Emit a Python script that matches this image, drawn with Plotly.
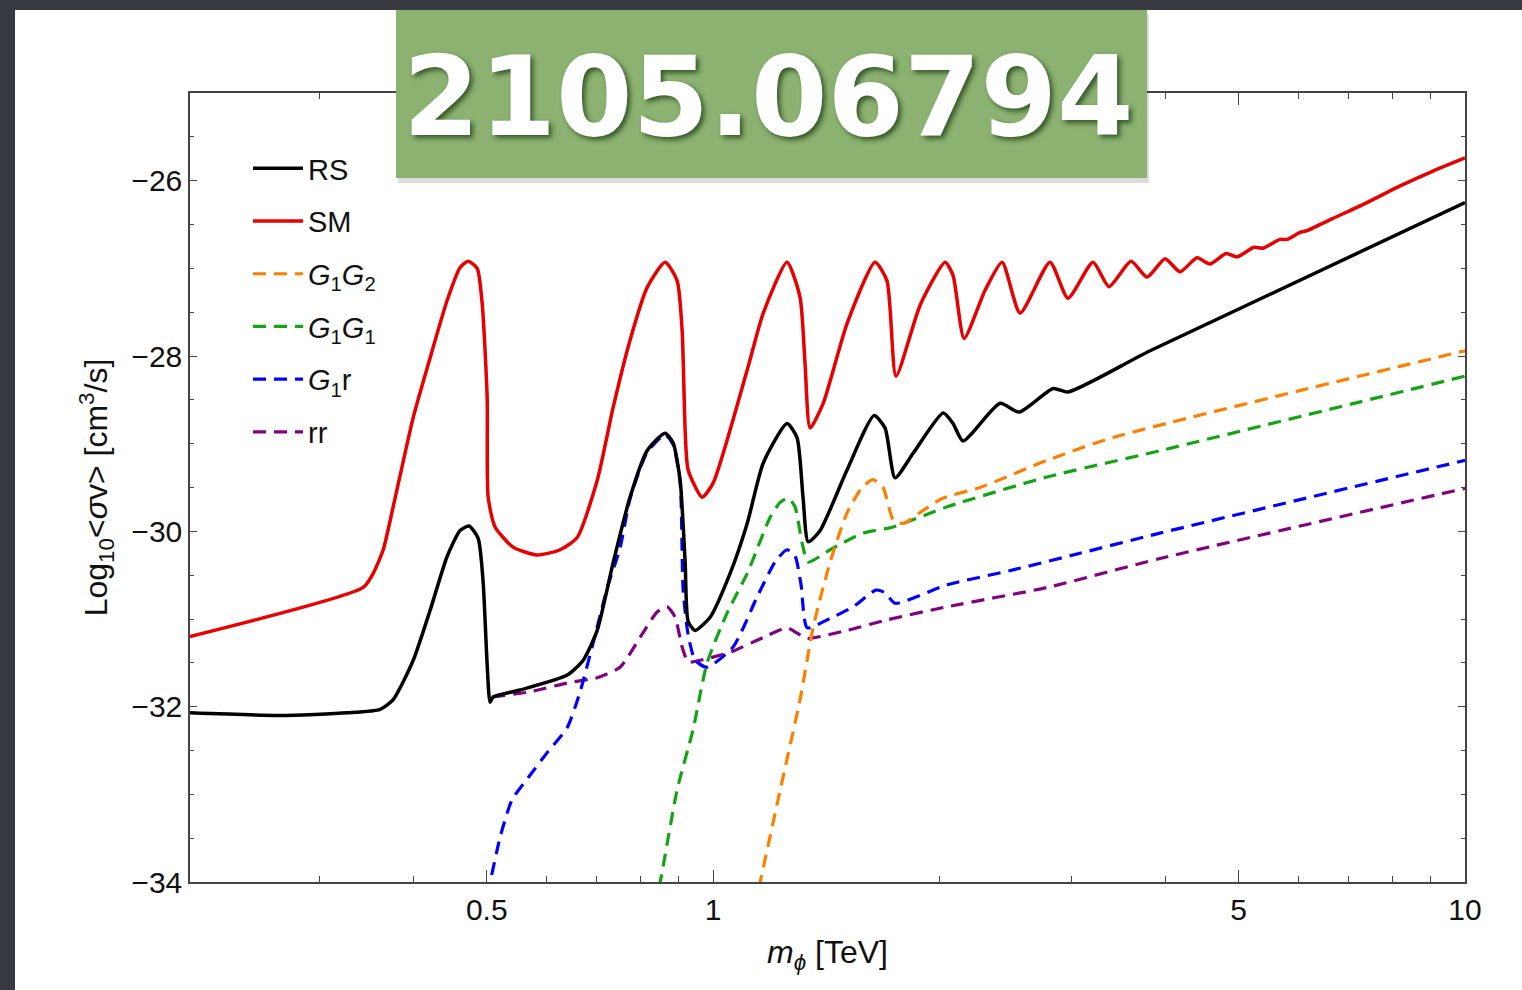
import numpy as np
import plotly.graph_objects as go

# ---------------- data ----------------
SM_m = [0.2015, 0.3424, 0.3531, 0.3641, 0.3754, 0.3992, 0.4204, 0.4427, 0.4608, 0.4722,
        0.4855, 0.4930, 0.5006, 0.5021, 0.5129, 0.5420, 0.5834, 0.6260, 0.6595, 0.7012,
        0.7362, 0.7754, 0.8169, 0.8633, 0.8956, 0.9095, 0.9180, 0.9264, 0.9669, 1.000,
        1.110, 1.166, 1.254, 1.305, 1.325, 1.346, 1.401, 1.507, 1.642, 1.703,
        1.751, 1.885, 2.035, 2.085, 2.157, 2.300, 2.423, 2.560, 2.806, 2.965,
        3.201, 3.362, 3.596, 3.777, 3.991, 4.178, 4.401, 4.580, 4.811, 4.975,
        5.242, 5.388, 5.675, 5.799, 6.034, 6.165, 6.675, 7.407, 8.198, 9.067, 10.0]
SM_y = [-31.20, -30.64, -30.48, -30.21, -29.72, -28.70, -28.02, -27.37, -26.99, -26.92,
        -27.00, -27.40, -28.47, -29.61, -29.95, -30.18, -30.27, -30.21, -30.07, -29.42,
        -28.59, -27.82, -27.22, -26.93, -27.14, -27.71, -28.85, -29.30, -29.61, -29.45,
        -28.16, -27.51, -26.93, -27.33, -28.08, -28.82, -28.54, -27.63, -26.93, -27.14,
        -28.23, -27.42, -26.93, -27.08, -27.80, -27.25, -26.93, -27.51, -26.93, -27.34,
        -26.93, -27.21, -26.92, -27.10, -26.89, -27.04, -26.88, -26.95, -26.83, -26.87,
        -26.76, -26.77, -26.67, -26.67, -26.59, -26.57, -26.43, -26.25, -26.06, -25.89, -25.74]

RS_m = [0.2015, 0.2655, 0.3262, 0.3607, 0.3754, 0.3992, 0.4204, 0.4427, 0.4608, 0.4736,
        0.4870, 0.4944, 0.5006, 0.5051, 0.5097, 0.5538, 0.6396, 0.6718, 0.7012, 0.7362,
        0.7754, 0.8169, 0.8633, 0.8847, 0.9040, 0.9180, 0.9264, 0.9464, 0.9909, 1.0534,
        1.110, 1.166, 1.254, 1.293, 1.317, 1.338, 1.388, 1.507, 1.637, 1.693,
        1.746, 1.845, 2.023, 2.085, 2.150, 2.408, 2.552, 2.833, 2.965, 3.812, 10.0]
RS_y = [-32.07, -32.10, -32.07, -32.03, -31.92, -31.47, -30.90, -30.29, -29.99, -29.94,
        -30.08, -30.57, -31.52, -31.95, -31.89, -31.81, -31.64, -31.47, -31.13, -30.36,
        -29.61, -29.08, -28.88, -28.99, -29.42, -30.36, -31.03, -31.13, -30.98, -30.48,
        -29.91, -29.22, -28.77, -28.93, -29.61, -30.12, -29.99, -29.30, -28.68, -28.82,
        -29.39, -29.11, -28.65, -28.77, -28.97, -28.54, -28.64, -28.37, -28.41, -27.94, -26.25]

G1G2_m = [1.134, 1.155, 1.228, 1.305, 1.358, 1.431, 1.507, 1.578, 1.632, 1.683,
          1.736, 1.789, 1.903, 2.023, 2.265, 2.781, 3.404, 10.0]
G1G2_y = [-34.30, -34.00, -32.95, -31.92, -31.10, -30.35, -29.79, -29.50, -29.41, -29.50,
          -29.87, -29.91, -29.76, -29.62, -29.50, -29.19, -28.93, -27.94]

G1G1_m = [0.8346, 0.8504, 0.8956, 0.9405, 0.9818, 1.044, 1.110, 1.191, 1.228, 1.258,
          1.285, 1.313, 1.338, 1.431, 1.583, 1.736, 2.048, 2.781, 3.930, 10.0]
G1G1_y = [-34.29, -34.00, -32.95, -32.26, -31.50, -30.93, -30.48, -29.84, -29.67, -29.62,
          -29.72, -30.13, -30.35, -30.21, -30.02, -29.95, -29.72, -29.38, -29.08, -28.23]

G1r_m = [0.4991, 0.5051, 0.5208, 0.5403, 0.5675, 0.6034, 0.6396, 0.6654, 0.6927, 0.7229,
         0.7521, 0.7754, 0.8169, 0.8633, 0.8847, 0.9040, 0.9123, 0.9264, 0.9464, 0.9818,
         1.063, 1.144, 1.209, 1.254, 1.285, 1.309, 1.334, 1.418, 1.536, 1.647,
         1.693, 1.746, 2.048, 2.506, 3.076, 3.930, 10.0]
G1r_y = [-34.15, -34.00, -33.49, -33.06, -32.81, -32.51, -32.24, -31.83, -31.27, -30.65,
         -30.19, -29.63, -29.10, -28.90, -29.01, -29.44, -30.67, -31.18, -31.47, -31.55,
         -31.32, -30.75, -30.35, -30.21, -30.28, -30.61, -31.10, -31.01, -30.86, -30.67,
         -30.70, -30.82, -30.61, -30.44, -30.25, -30.02, -29.19]

rr_m = [0.5083, 0.5711, 0.6396, 0.7012, 0.7521, 0.7996, 0.8425, 0.8687, 0.8902, 0.9095,
        0.9264, 0.9610, 1.0534, 1.166, 1.254, 1.293, 1.334, 1.507, 1.703, 2.048,
        2.781, 3.930, 10.0]
rr_y = [-31.89, -31.83, -31.73, -31.67, -31.55, -31.21, -30.92, -30.86, -30.98, -31.32,
        -31.49, -31.47, -31.38, -31.21, -31.10, -31.16, -31.22, -31.13, -31.01, -30.86,
        -30.64, -30.31, -29.51]

x_major = [0.5, 1, 5, 10]
x_major_text = ["0.5", "1", "5", "10"]
x_minor = [0.3, 0.4, 0.6, 0.7, 0.8, 0.9, 2, 3, 4, 6, 7, 8, 9]
y_major = [-34, -32, -30, -28, -26]
y_major_text = ["\u221234", "\u221232", "\u221230", "\u221228", "\u221226"]
x_range = [0.2015, 10.0]
y_range = [-34, -25]

# ---------------- figure ----------------
W, H = 1522, 990
L, R, T, B = 190, 57, 93, 108
pw, ph = W - L - R, H - T - B

def px_x(p):  # pixel -> paper x
    return (p - L) / pw

def px_y(p):  # pixel -> paper y
    return (H - B - p) / ph

DASH = "13px,8px"
series = [
    # name, x, y, colour, dash, width, legendrank
    ("rr", rr_m, rr_y, "#800080", DASH, 3.2, 6),
    ("<i>G</i><sub>1</sub>r", G1r_m, G1r_y, "#0000ff", DASH, 3.2, 5),
    ("<i>G</i><sub>1</sub><i>G</i><sub>1</sub>", G1G1_m, G1G1_y, "#14a314", DASH, 3.2, 4),
    ("<i>G</i><sub>1</sub><i>G</i><sub>2</sub>", G1G2_m, G1G2_y, "#ff8000", DASH, 3.2, 3),
    ("SM", SM_m, SM_y, "#e60000", "solid", 3.5, 2),
    ("RS", RS_m, RS_y, "#000000", "solid", 3.5, 1),
]

fig = go.Figure()
for name, xs, ys, col, dsh, wd, rank in series:
    assert len(xs) == len(ys), name
    fig.add_trace(go.Scatter(
        x=xs, y=ys, mode="lines", name=name,
        line=dict(color=col, width=wd, dash=dsh, shape="spline", smoothing=0.6),
        legendrank=rank, legendgroup="g%d" % rank,
    ))

axis_col = "#444444"
fig.update_xaxes(
    type="log", range=[np.log10(x_range[0]), np.log10(x_range[1])],
    tickvals=x_major, ticktext=x_major_text,
    ticks="inside", ticklen=12, tickwidth=1.3, tickcolor=axis_col,
    showline=True, linecolor=axis_col, linewidth=1.5, mirror="allticks",
    showgrid=False, zeroline=False,
    minor=dict(tickvals=x_minor, ticks="inside", ticklen=6, tickwidth=1.2,
               tickcolor=axis_col, showgrid=False),
    tickfont=dict(family="Liberation Sans", size=30, color="#111"),
    title=dict(text="<i>m</i><sub><i>\u03d5</i></sub> [TeV]",
               font=dict(family="Liberation Sans", size=32, color="#111"), standoff=16),
)
fig.update_yaxes(
    range=y_range, tickvals=y_major, ticktext=y_major_text,
    ticks="inside", ticklen=7, tickwidth=1.3, tickcolor=axis_col,
    showline=True, linecolor=axis_col, linewidth=1.5, mirror="allticks",
    showgrid=False, zeroline=False,
    minor=dict(dtick=0.5, tick0=0, ticks="inside", ticklen=4, tickwidth=1.2,
               tickcolor=axis_col, showgrid=False),
    tickfont=dict(family="Liberation Sans", size=30, color="#111"),
    title=dict(text="Log<sub>10</sub>&lt;<i>\u03c3</i>v&gt; [cm<sup>3</sup>/s]",
               font=dict(family="Liberation Sans", size=32, color="#111"), standoff=14),
)

shapes = [
    # white slide panel
    dict(type="rect", xref="paper", yref="paper", layer="below",
         x0=px_x(15), x1=px_x(1530), y0=px_y(1000), y1=px_y(10),
         fillcolor="white", line=dict(width=0)),
    # shadow of label box
    dict(type="rect", xref="paper", yref="paper", layer="above",
         x0=px_x(398), x1=px_x(1149), y0=px_y(183), y1=px_y(14),
         fillcolor="rgba(0,0,0,0.14)", line=dict(width=0)),
    # green label box
    dict(type="rect", xref="paper", yref="paper", layer="above",
         x0=px_x(396), x1=px_x(1147), y0=px_y(178), y1=px_y(10),
         fillcolor="#8bb271", line=dict(width=0)),
]

annotations = [
    dict(text="<b>2105.06794</b>", xref="paper", yref="paper",
         x=px_x(768), y=px_y(97), xanchor="center", yanchor="middle", showarrow=False,
         font=dict(family="DejaVu Sans", size=110, color="white",
                   shadow="3px 3px 5px rgba(20,50,10,0.7)")),
]

fig.update_layout(
    width=W, height=H, margin=dict(l=L, r=R, t=T, b=B, autoexpand=False),
    paper_bgcolor="#373a41", plot_bgcolor="white",
    shapes=shapes, annotations=annotations,
    showlegend=True,
    legend=dict(x=px_x(248), y=px_y(143), xanchor="left", yanchor="top",
                bgcolor="rgba(0,0,0,0)", borderwidth=0,
                font=dict(family="Liberation Sans", size=29, color="#111"),
                tracegroupgap=12, itemwidth=50, traceorder="grouped"),
)

fig.write_html("out.html", config={"displayModeBar": False},
               post_script="document.body.style.margin='0';")
